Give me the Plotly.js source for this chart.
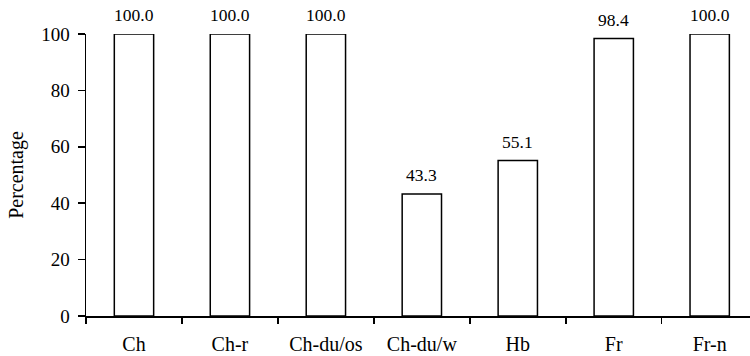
<!DOCTYPE html>
<html>
<head>
<meta charset="utf-8">
<script src="https://cdn.plot.ly/plotly-3.0.1.min.js"></script>
<style>html,body{margin:0;padding:0;background:#fff;}#chart{width:750px;height:356px;}</style>
</head>
<body>
<div id="chart"></div>
<script>
const categories = ["Ch", "Ch-r", "Ch-du/os", "Ch-du/w", "Hb", "Fr", "Fr-n"];
const values = [100.0, 100.0, 100.0, 43.3, 55.1, 98.4, 100.0];
const yTicks = [0, 20, 40, 60, 80, 100];

const font = "Liberation Serif";

const trace = {
  type: "bar",
  x: categories,
  y: values,
  width: 0.41,
  marker: {color: "#ffffff", line: {color: "#000000", width: 1.5}},
  hoverinfo: "none"
};

const annotations = categories.map((c, i) => ({
  x: c, y: values[i], xref: "x", yref: "y",
  text: values[i].toFixed(1),
  showarrow: false, yanchor: "bottom", yshift: 7,
  font: {family: font, size: 17.5, color: "#000"}
}));

const layout = {
  width: 750, height: 356,
  margin: {l: 86, r: 0, t: 34, b: 40},
  paper_bgcolor: "#fff", plot_bgcolor: "#fff",
  showlegend: false,
  font: {family: font, color: "#000"},
  xaxis: {
    type: "category",
    range: [-0.5, 6.42],
    showline: true, linecolor: "#000", linewidth: 1.5,
    ticks: "outside", tickson: "boundaries", ticklen: 6, tickwidth: 1.5, tickcolor: "#000",
    ticklabelstandoff: 9,
    showgrid: false, zeroline: false,
    tickfont: {family: font, size: 20, color: "#000"}
  },
  yaxis: {
    range: [0, 100],
    tickvals: yTicks,
    showline: true, linecolor: "#000", linewidth: 1.5,
    ticks: "outside", ticklen: 7, tickwidth: 1.5, tickcolor: "#000",
    ticklabelstandoff: 4,
    showgrid: false, zeroline: false,
    tickfont: {family: font, size: 19, color: "#000"},
    title: {text: "Percentage", font: {family: font, size: 20, color: "#000"}, standoff: 12}
  },
  annotations: annotations
};

Plotly.newPlot("chart", [trace], layout, {displayModeBar: false, staticPlot: true});
</script>
</body>
</html>
